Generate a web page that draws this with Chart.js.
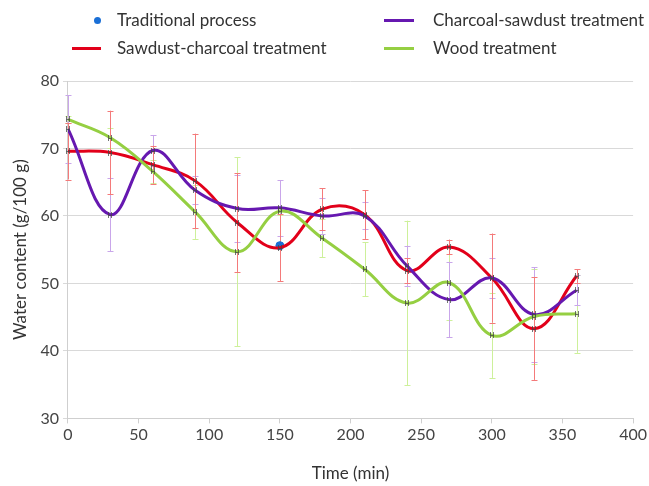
<!DOCTYPE html>
<html>
<head>
<meta charset="utf-8">
<script src="https://cdn.jsdelivr.net/npm/chart.js@4"></script>
<style>
  html, body { margin: 0; padding: 0; background: #fff; }
  #wrap { position: relative; width: 649px; height: 486px; font-family: Lato, "Noto Sans", sans-serif; color: #333; }
  #chart { position: absolute; left: 0; top: 0; }
  .lg { position: absolute; font-size: 17px; line-height: 20px; white-space: nowrap; }
  .sw { position: absolute; height: 3px; }
  .dot { position: absolute; width: 7px; height: 7px; border-radius: 50%; background: #1a6fd6; }
</style>
</head>
<body>
<div id="wrap">
  <canvas id="chart" width="649" height="486"></canvas>
  <div class="dot" style="left:94px;top:17px"></div>
  <div class="lg" style="left:117px;top:10px">Traditional process</div>
  <div class="sw" style="left:72px;top:47px;width:29px;background:#e2001a"></div>
  <div class="lg" style="left:117px;top:38px">Sawdust-charcoal treatment</div>
  <div class="sw" style="left:384px;top:19px;width:30px;background:#6618b0"></div>
  <div class="lg" style="left:433px;top:10px">Charcoal-sawdust treatment</div>
  <div class="sw" style="left:384px;top:47px;width:30px;background:#95cf42"></div>
  <div class="lg" style="left:433px;top:38px">Wood treatment</div>
</div>
<script>
// sampling times (min)
const times = [0, 30, 60, 90, 120, 150, 180, 210, 240, 270, 300, 330, 360];

// water content, g/100 g, with +/- error
const sawdustCharcoal    = [69.6, 69.4, 67.6, 65.2, 59.0, 55.3, 61.0, 60.2, 51.9, 55.4, 50.8, 43.3, 51.1];
const sawdustCharcoalErr = [4.2, 6.2, 2.8, 7.0, 7.3, 5.0, 3.1, 3.6, 1.8, 1.1, 6.6, 7.6, 1.0];

const charcoalSawdust    = [72.9, 60.2, 69.7, 63.8, 61.1, 61.2, 60.0, 60.0, 52.6, 47.6, 50.8, 45.4, 49.0];
const charcoalSawdustErr = [5.0, 5.4, 2.3, 2.1, 5.0, 4.1, 2.6, 2.0, 3.0, 5.6, 2.9, 7.0, 2.2];

const wood    = [74.3, 71.6, 66.6, 60.6, 54.7, 60.7, 56.7, 52.1, 47.1, 50.1, 42.3, 45.1, 45.5];
const woodErr = [0.5, 1.5, 1.7, 4.0, 14.0, 0.5, 2.8, 4.0, 12.2, 5.5, 6.3, 7.0, 5.8];

const traditionalTime = [150];
const traditional     = [55.6];

const pts = (xs, ys) => xs.map((x, i) => ({ x, y: ys[i] }));

// vertical error bars under the lines, small dark "H" marks on top
const errorBars = {
  id: 'errorBars',
  beforeDatasetsDraw(chart){
    const { ctx, scales: { x, y } } = chart;
    ctx.save();
    ctx.lineWidth = 1;
    chart.data.datasets.forEach(ds => {
      if (!ds.errors) return;
      ctx.strokeStyle = ds.errorColor;
      ds.data.forEach((p, i) => {
        const e = ds.errors[i];
        const px = Math.round(x.getPixelForValue(p.x)) + 0.5;
        const top = y.getPixelForValue(p.y + e);
        const bot = y.getPixelForValue(p.y - e);
        ctx.beginPath();
        ctx.moveTo(px, top); ctx.lineTo(px, bot);
        ctx.moveTo(px - 3, Math.round(top) + 0.5); ctx.lineTo(px + 3, Math.round(top) + 0.5);
        ctx.moveTo(px - 3, Math.round(bot) + 0.5); ctx.lineTo(px + 3, Math.round(bot) + 0.5);
        ctx.stroke();
      });
    });
    ctx.restore();
  },
  afterDatasetsDraw(chart){
    const { ctx, scales: { x, y } } = chart;
    ctx.save();
    ctx.lineWidth = 1;
    ctx.strokeStyle = 'rgba(70,70,70,0.75)';
    chart.data.datasets.forEach(ds => {
      if (!ds.errors) return;
      ds.data.forEach(p => {
        const px = Math.round(x.getPixelForValue(p.x));
        const py = Math.round(y.getPixelForValue(p.y));
        ctx.beginPath();
        ctx.moveTo(px - 1.5, py - 3); ctx.lineTo(px - 1.5, py + 3);
        ctx.moveTo(px + 1.5, py - 3); ctx.lineTo(px + 1.5, py + 3);
        ctx.moveTo(px - 1.5, py + 0.5); ctx.lineTo(px + 1.5, py + 0.5);
        ctx.stroke();
      });
    });
    ctx.restore();
  }
};

const lineDs = (label, ys, errs, color, errColor) => ({
  label, data: pts(times, ys), errors: errs, errorColor: errColor,
  borderColor: color, backgroundColor: color, borderWidth: 3,
  pointRadius: 0, tension: 0.4, fill: false
});

new Chart(document.getElementById('chart').getContext('2d'), {
  type: 'line',
  data: {
    datasets: [
      lineDs('Wood treatment', wood, woodErr, '#95cf42', '#cdf09a'),
      lineDs('Charcoal-sawdust treatment', charcoalSawdust, charcoalSawdustErr, '#6618b0', '#c9a6ea'),
      lineDs('Sawdust-charcoal treatment', sawdustCharcoal, sawdustCharcoalErr, '#e2001a', '#f47a7a'),
      {
        label: 'Traditional process', type: 'scatter',
        data: pts(traditionalTime, traditional),
        backgroundColor: '#1a6fd6', borderColor: '#1a6fd6',
        pointRadius: 4, showLine: false
      }
    ]
  },
  options: {
    responsive: false,
    devicePixelRatio: 1,
    animation: false,
    layout: { padding: { top: 81, right: 12, bottom: 2, left: 10 } },
    plugins: { legend: { display: false }, tooltip: { enabled: false } },
    scales: {
      x: {
        type: 'linear', min: 0, max: 400,
        ticks: { stepSize: 50, color: '#444', font: { family: 'Lato', size: 16 }, padding: 2 },
        grid: { drawOnChartArea: false, tickLength: 5, color: '#cfcfcf' },
        border: { color: '#cfcfcf' },
        title: { display: true, text: 'Time (min)', color: '#333', font: { family: 'Lato', size: 17 }, padding: { top: 17, bottom: 0 } }
      },
      y: {
        min: 30, max: 80,
        ticks: { stepSize: 10, color: '#444', font: { family: 'Lato', size: 16 }, padding: 4 },
        grid: { color: '#d9d9d9', tickLength: 5 },
        border: { color: '#cfcfcf' },
        title: { display: true, text: 'Water content (g/100 g)', color: '#333', font: { family: 'Lato', size: 17 }, padding: { top: 0, bottom: 6 } }
      }
    }
  },
  plugins: [errorBars]
});
</script>
</body>
</html>
